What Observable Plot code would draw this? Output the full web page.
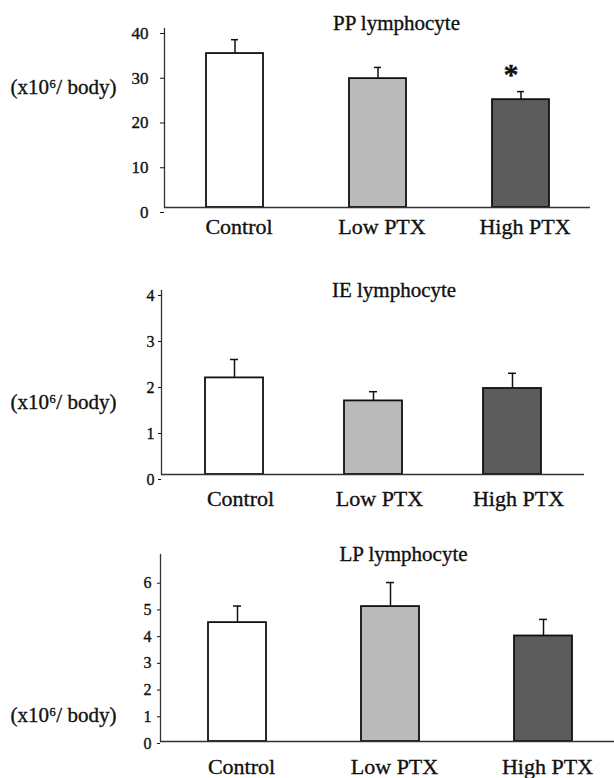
<!DOCTYPE html>
<html><head><meta charset="utf-8">
<script src="https://cdn.jsdelivr.net/npm/d3@7"></script>
<script src="https://cdn.jsdelivr.net/npm/@observablehq/plot@0.6"></script>
<style>
body{margin:0;background:#fff}
#chart svg{display:block}
#chart text{stroke:#111;stroke-width:0.35px}
</style>
</head><body><div id="chart"></div>
<script>
const groups = ["Control", "Low PTX", "High PTX"];
const ppMean = [34.4, 28.8, 24.1];
const ppErr  = [37.5, 31.3, 25.9];
const ieMean = [2.1, 1.6, 1.87];
const ieErr  = [2.5, 1.8, 2.2];
const lpMean = [4.45, 5.05, 3.95];
const lpErr  = [5.07, 5.95, 4.57];
const titles = ["PP lymphocyte", "IE lymphocyte", "LP lymphocyte"];
const unitLabel = "(x10⁶/ body)";
const marks = ["", "", "*"];
const ppTicks = [0, 10, 20, 30, 40];
const ieTicks = [0, 1, 2, 3, 4];
const lpTicks = [0, 1, 2, 3, 4, 5, 6];
const fills = ["#ffffff", "#bababa", "#5c5c5c"];

const FONT = "'Liberation Serif','Times New Roman',serif";

function panel(o) {
  const data = groups.map((g, i) => ({group: g, mean: o.mean[i], err: o.err[i], fill: fills[i], mark: o.marks ? o.marks[i] : ""}));
  return Plot.plot({
    width: 614,
    height: o.height,
    marginLeft: o.ml,
    marginRight: 614 - o.xr,
    marginTop: o.mt,
    marginBottom: o.mb,
    style: {fontFamily: FONT, background: "#fff", color: "#111"},
    x: {type: "band", domain: groups, range: o.range, padding: o.pad, axis: null},
    y: {domain: o.domain, axis: null},
    marks: [
      Plot.barY(data, {x: "group", y: "mean", fill: "fill", stroke: "#111", strokeWidth: 1.8}),
      Plot.ruleX(data, {x: "group", y1: "mean", y2: "err", stroke: "#111", strokeWidth: 1.5}),
      Plot.tickY(data, {x: "group", y: "err", stroke: "#111", strokeWidth: 1.5, insetLeft: o.capInset, insetRight: o.capInset}),
      Plot.frame({anchor: "left", stroke: "#333", strokeWidth: 1.3}),
      Plot.ruleY([0], {stroke: "#333", strokeWidth: 1.5}),
      Plot.axisY({ticks: o.ticks, tickSize: o.tickSize, tickPadding: o.tickPad, fontSize: o.tickFont, dy: o.tickDy, label: null, tickFormat: d => String(d)}),
      Plot.axisX({tickSize: 0, tickPadding: o.xPad, fontSize: 22, dx: o.xDx, label: null}),
      Plot.text([o.title], {frameAnchor: "top", dx: o.titleDx, dy: o.titleDy, fontSize: 21, lineAnchor: "middle", fill: "#111"}),
      Plot.text([unitLabel], {frameAnchor: "left", y: [o.unitY], textAnchor: "start", dx: 10 - o.ml, fontSize: 21, fill: "#111", lineAnchor: "middle"}),
      Plot.text(data.filter(d => d.mark), {x: "group", y: "err", text: "mark", fontSize: 30, fontWeight: "bold", dx: -10, dy: -8, lineAnchor: "bottom", fill: "#111"})
    ]
  });
}

const chart = document.getElementById("chart");
chart.append(panel({
  mean: ppMean, err: ppErr, marks, domain: [0, 40], ticks: ppTicks, height: 250,
  ml: 164, xr: 590, mt: 28, mb: 43, range: [119.2, 635.8], pad: 0.6, capInset: 25,
  tickSize: 4, tickPad: 12, tickFont: 17, tickDy: 5, xPad: 11, xDx: 4,
  title: titles[0], titleDx: 19, titleDy: -5, unitY: 26.8
}));
chart.append(panel({
  mean: ieMean, err: ieErr, domain: [0, 4], ticks: ieTicks, height: 270,
  ml: 161, xr: 584, mt: 40, mb: 46, range: [124, 622], pad: 0.58, capInset: 25,
  tickSize: 3, tickPad: 4, tickFont: 16, tickDy: 5, xPad: 16, xDx: 6,
  title: titles[1], titleDx: 21, titleDy: 0, unitY: 1.57
}));
chart.append(panel({
  mean: lpMean, err: lpErr, domain: [0, 7], ticks: lpTicks, height: 258,
  ml: 160, xr: 614, mt: 34, mb: 37, range: [112.5, 668.5], pad: 0.62, capInset: 25,
  tickSize: 3, tickPad: 6, tickFont: 16, tickDy: 2, xPad: 17, xDx: 4,
  title: titles[2], titleDx: 16, titleDy: 0, unitY: 1.0
}));
</script>
</body></html>
